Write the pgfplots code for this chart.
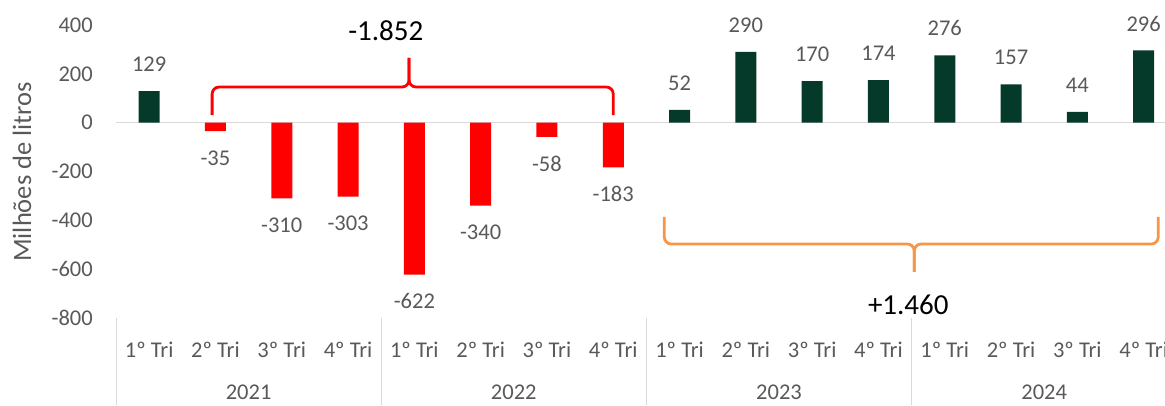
\documentclass[border=0pt]{standalone}
\usepackage{fontspec}
\setmainfont{Carlito}
\usepackage{pgfplots}
\pgfplotsset{compat=1.18}
\definecolor{dgreen}{RGB}{5,58,42}
\definecolor{tgray}{RGB}{89,89,89}
\definecolor{lgray}{RGB}{217,217,217}
\definecolor{borange}{RGB}{247,150,70}
\newcommand{\fs}{\fontsize{22.5}{22.5}\selectfont}
\begin{document}
\begin{tikzpicture}
\begin{axis}[
  at={(116pt,87pt)}, anchor=south west,
  scale only axis, width=1060.8pt, height=293pt,
  xmin=-0.5, xmax=15.5, ymin=-800, ymax=400,
  axis line style={draw=none},
  major tick length=0pt,
  ytick={-800,-600,-400,-200,0,200,400},
  yticklabels={-800,-600,-400,-200,0,200,400},
  yticklabel style={font=\fs, text=tgray, anchor=east, inner sep=0pt, xshift=-23pt},
  xtick={0,...,15},
  xticklabels={1º Tri,2º Tri,3º Tri,4º Tri,1º Tri,2º Tri,3º Tri,4º Tri,1º Tri,2º Tri,3º Tri,4º Tri,1º Tri,2º Tri,3º Tri,4º Tri},
  xticklabel style={font=\fs, text=tgray, anchor=center, inner sep=0pt, yshift=-32pt},
  ybar, bar width=21pt,
  clip=false,
  nodes near coords={\pgfmathprintnumber[assume math mode=true]{\pgfplotspointmeta}},
  every node near coord/.append style={font=\fs, text=tgray, inner xsep=0pt, inner ysep=19pt},
]
\draw[lgray, line width=1.5pt] (axis cs:-0.5,0) -- (axis cs:15.5,0);
\addplot[fill=dgreen, draw=none, bar shift=0pt] coordinates {
  (0,129) (8,52) (9,290) (10,170) (11,174) (12,276) (13,157) (14,44) (15,296)};
\addplot[fill=red, draw=none, bar shift=0pt] coordinates {
  (1,-35) (2,-310) (3,-303) (4,-622) (5,-340) (6,-58) (7,-183)};
\foreach \s in {-0.5,3.5,7.5,11.5} {
  \edef\tmp{\noexpand\draw[lgray, line width=1pt] (axis cs:\s,-800) -- ++(0pt,-87pt);}
  \tmp
}
\node[font=\fs, text=tgray, yshift=-74pt] at (axis cs:1.5,-800) {2021};
\node[font=\fs, text=tgray, yshift=-74pt] at (axis cs:5.5,-800) {2022};
\node[font=\fs, text=tgray, yshift=-74pt] at (axis cs:9.5,-800) {2023};
\node[font=\fs, text=tgray, yshift=-74pt] at (axis cs:13.5,-800) {2024};
% red brace
\draw[red, line width=2.8pt, rounded corners=7pt] (axis cs:0.95,31) -- (axis cs:0.95,146) -- (axis cs:3.92,146) -- (axis cs:3.92,265);
\draw[red, line width=2.8pt, rounded corners=7pt] (axis cs:3.92,265) -- (axis cs:3.92,146) -- (axis cs:7.0,146) -- (axis cs:7.0,31);
\node[font=\fontsize{29}{29}\selectfont] at (axis cs:3.57,375) {-1.852};
% orange brace
\draw[borange, line width=2.8pt, rounded corners=7pt] (axis cs:7.77,-386) -- (axis cs:7.77,-497) -- (axis cs:11.54,-497) -- (axis cs:11.54,-611);
\draw[borange, line width=2.8pt, rounded corners=7pt] (axis cs:11.54,-611) -- (axis cs:11.54,-497) -- (axis cs:15.22,-497) -- (axis cs:15.22,-386);
\node[font=\fontsize{29}{29}\selectfont] at (axis cs:11.45,-746) {+1.460};
\end{axis}
\node[rotate=90, text=tgray, font=\fontsize{26.5}{26.5}\selectfont] at (22pt,233pt) {Milhões de litros};
\pgfresetboundingbox
\useasboundingbox (0,0) rectangle (1165pt,405pt);
\end{tikzpicture}
\end{document}
